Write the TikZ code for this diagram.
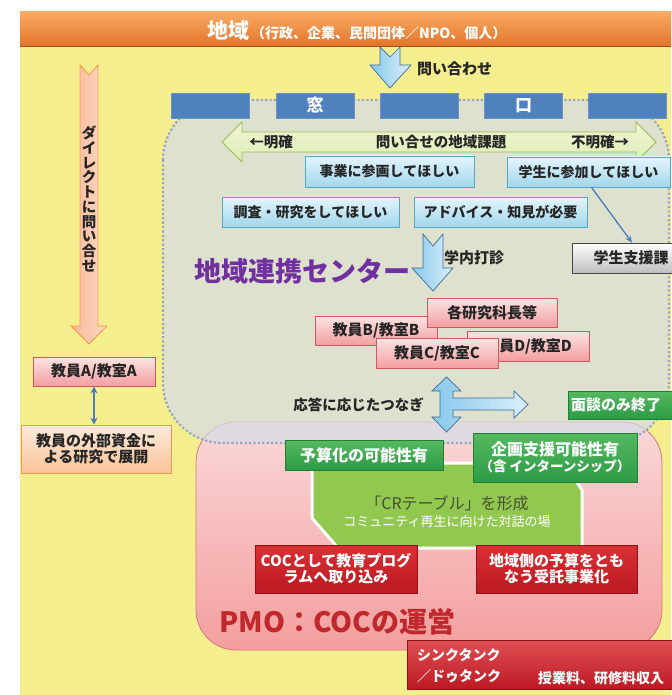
\documentclass[tikz,border=0pt]{standalone}
\usepackage{fontspec}
\setmainfont{Noto Sans CJK JP}
\usetikzlibrary{arrows.meta}
\newcommand\fsz[1]{\fontsize{#1}{#1}\selectfont}
\definecolor{bgyellow}{RGB}{245,238,143}
\definecolor{bannertop}{RGB}{249,170,100}
\definecolor{bannerbot}{RGB}{226,115,40}
\definecolor{winblue}{RGB}{79,129,189}
\definecolor{grayfill}{RGB}{212,220,232}
\definecolor{dotcol}{RGB}{155,165,190}
\definecolor{pinktop}{RGB}{250,216,216}
\definecolor{pinkbot}{RGB}{244,158,158}
\definecolor{pinkedge}{RGB}{214,120,130}
\definecolor{bluetop}{RGB}{228,245,252}
\definecolor{bluebot}{RGB}{160,215,236}
\definecolor{blueedge}{RGB}{75,172,198}
\definecolor{bpinktop}{RGB}{252,228,228}
\definecolor{bpinkbot}{RGB}{242,158,160}
\definecolor{bpinkedge}{RGB}{205,90,95}
\definecolor{graybot}{RGB}{190,190,190}
\definecolor{grayedge}{RGB}{70,70,70}
\definecolor{greentop}{RGB}{85,185,95}
\definecolor{greenbot}{RGB}{45,155,70}
\definecolor{greenedge}{RGB}{35,125,55}
\definecolor{redtop}{RGB}{218,48,52}
\definecolor{redbot}{RGB}{188,25,35}
\definecolor{rededge}{RGB}{140,20,25}
\definecolor{crgreen}{RGB}{146,200,80}
\definecolor{crtext}{RGB}{70,80,50}
\definecolor{orangetop}{RGB}{253,235,220}
\definecolor{orangebot}{RGB}{250,195,150}
\definecolor{orangeedge}{RGB}{247,150,70}
\definecolor{peachL}{RGB}{248,185,150}
\definecolor{peachR}{RGB}{252,218,198}
\definecolor{lgtop}{RGB}{240,245,212}
\definecolor{lgbot}{RGB}{222,236,180}
\definecolor{lgedge}{RGB}{155,187,89}
\definecolor{arrowblue}{RGB}{70,125,190}
\definecolor{afillL}{RGB}{135,200,235}
\definecolor{afillR}{RGB}{218,240,251}
\definecolor{aedge}{RGB}{65,105,155}
\definecolor{purp}{RGB}{112,48,160}
\definecolor{pmored}{RGB}{192,40,45}
\definecolor{txt}{RGB}{38,38,38}
\begin{document}
\begin{tikzpicture}[x=1pt,y=-1pt,
  box/.style={draw, inner sep=0pt, align=center, text=txt, font=\bfseries\fsz{14}},
  bluebox/.style={box, top color=bluetop, bottom color=bluebot, draw=blueedge, line width=0.8pt},
  pinkbox/.style={box, top color=bpinktop, bottom color=bpinkbot, draw=bpinkedge, line width=0.8pt, font=\bfseries\fsz{15}},
  graybox/.style={box, top color=white, bottom color=graybot, draw=grayedge, line width=0.8pt, font=\bfseries\fsz{15}},
  greenbox/.style={box, top color=greentop, bottom color=greenbot, draw=greenedge, line width=0.6pt, text=white, font=\bfseries\fsz{16}},
  redbox/.style={box, top color=redtop, bottom color=redbot, draw=rededge, line width=0.6pt, text=white, font=\bfseries\fsz{15}},
  winbox/.style={fill=winblue, draw=winblue!85!white, inner sep=0pt, minimum width=78pt, minimum height=25pt, text=white, font=\bfseries\fsz{17}},
  blockarrow/.style={left color=afillL, right color=afillR, draw=aedge, line width=0.7pt},
  lbl/.style={text=txt, font=\bfseries\fsz{14.5}, inner sep=0pt}
]
\useasboundingbox (0,0) rectangle (671,695);
% background
\fill[white] (0,0) rectangle (671,695);
\fill[bgyellow] (20,40) rectangle (671,695);
\shade[top color=bannertop, bottom color=bannerbot] (20,12) rectangle (671,47);
\draw[bannerbot!70!black, line width=0.8pt] (20,46.5) -- (671,46.5);
\node[text=white, inner sep=0pt] (bannertext) at (357,31) {{\bfseries\fsz{21}地域}\,{\bfseries\fsz{14}（行政、企業、民間団体／NPO、個人）}};

% PMO region (pink)
\draw[rounded corners=40pt, top color=pinktop, bottom color=pinkbot, draw=pinkedge, line width=0.8pt] (196,422) rectangle (662,650);
% center region (gray, dotted)
\draw[rounded corners=60pt, fill=grayfill, fill opacity=0.7, draw=dotcol, line width=2.2pt, dash pattern=on 2.2pt off 2.2pt] (163,100) rectangle (669,443);

% window row
\node[winbox] (win1) at (210,105.5) {};
\node[winbox] (win2) at (315,105.5) {窓};
\node[winbox] (win3) at (419,105.5) {};
\node[winbox] (win4) at (523.5,105.5) {口};
\node[winbox] (win5) at (627.5,105.5) {};

% inquiry arrow
\draw[blockarrow] (380,47) -- (390,57) -- (400,47) -- (400,65) -- (411,65) -- (390,88) -- (370,65) -- (380,65) -- cycle;
\node[lbl, font=\bfseries\fsz{15}, anchor=west] (toiawase) at (417,69) {問い合わせ};

% left orange arrow
\draw[left color=peachL, right color=peachR, draw=orangeedge, line width=0.8pt]
  (80,65) -- (89,75) -- (98,65) -- (98,326) -- (107,326) -- (89,344) -- (71,326) -- (80,326) -- cycle;
\node[text=txt, inner sep=0pt, align=center, font=\bfseries\fontsize{14.5}{14.75}\selectfont] (direct) at (89,199) {ダ\\イ\\レ\\ク\\ト\\に\\問\\い\\合\\せ};

\node[pinkbox, minimum width=122pt, minimum height=29pt] (kyoinA) at (94,371.5) {教員A/教室A};
\node[box, top color=orangetop, bottom color=orangebot, draw=orangeedge, line width=0.8pt, minimum width=150pt, minimum height=48pt, font=\bfseries\fsz{15}] (gaibu) at (96,449) {教員の外部資金に\\[1pt]よる研究で展開};
\draw[{Stealth[length=7pt,width=7pt]}-{Stealth[length=7pt,width=7pt]}, line width=1.9pt, arrowblue] (kyoinA.south) -- (kyoinA.south |- gaibu.north);

% green double arrow
\draw[top color=lgtop, bottom color=lgbot, draw=lgedge, line width=0.9pt]
  (222,142) -- (242,122) -- (242,132) -- (636,132) -- (636,122) -- (656,142) -- (636,162) -- (636,152) -- (242,152) -- (242,162) -- cycle;
\node[lbl] (meikaku) at (271,142) {←明確};
\node[lbl] (kadai) at (441,142) {問い合せの地域課題};
\node[lbl] (fumei) at (600,142) {不明確→};

% request boxes
\node[bluebox, minimum width=169pt, minimum height=31pt] (jigyo) at (389.5,171.5) {事業に参画してほしい};
\node[bluebox, minimum width=163pt, minimum height=30pt] (gakusei) at (588.5,172) {学生に参加してほしい};
\node[bluebox, minimum width=177pt, minimum height=30pt] (chosa) at (310.5,212) {調査・研究をしてほしい};
\node[bluebox, minimum width=173pt, minimum height=30pt] (advice) at (500.5,212) {アドバイス・知見が必要};
\node[graybox, minimum width=118pt, minimum height=30pt] (shien) at (631,258) {学生支援課};
\draw[-{Stealth[length=7pt,width=6pt]}, line width=1.3pt, arrowblue] ([xshift=3pt]gakusei.south) -- ([xshift=1pt]shien.north);

% internal arrow
\draw[blockarrow] (423,234) -- (433,246) -- (443,234) -- (443,268) -- (453,268) -- (433,291) -- (412,268) -- (423,268) -- cycle;
\node[lbl, font=\bfseries\fsz{15}, anchor=west] (dashin) at (444,258) {学内打診};
\node[text=purp, inner sep=0pt, font=\bfseries\fsz{27}] (center) at (302.5,271) {地域連携センター};

% faculty boxes
\node[pinkbox, minimum width=122pt, minimum height=29pt] (kyoinB) at (376,330.5) {教員B/教室B};
\node[pinkbox, minimum width=130pt, minimum height=29pt] (kenkyuka) at (492,312.5) {各研究科長等};
\node[pinkbox, minimum width=122pt, minimum height=30pt] (kyoinD) at (528,346) {教員D/教室D};
\node[pinkbox, minimum width=122pt, minimum height=30pt] (kyoinC) at (437,353) {教員C/教室C};

% cross arrow
\draw[blockarrow]
  (446.5,377) -- (461,391) -- (453,391) -- (453,398) -- (514,398) -- (514,391) -- (528,404.5) -- (514,418) -- (514,410) -- (453,410) -- (453,417) -- (461,417) -- (446.5,432) -- (432,417) -- (440,417) -- (440,391) -- (432,391) -- cycle;
\node[lbl] (tsunagi) at (358.5,405) {応答に応じたつなぎ};
\node[greenbox, minimum width=120pt, minimum height=28pt, font=\bfseries\fsz{15}, text width=114pt, align=left] (mendan) at (628,405) {面談のみ終了};

% CR table
\draw[fill=crgreen, draw=white, line width=3pt] (312,463) -- (565,463) -- (582,490) -- (582,548) -- (338,548) -- (312,518) -- cycle;
\node[inner sep=0pt, align=center] (crtable) at (447,512) {{\color{crtext}\fsz{16}「CRテーブル」を形成}\\[4pt]{\color{white}\fsz{13}コミュニティ再生に向けた対話の場}};

\node[greenbox, minimum width=158pt, minimum height=30pt] (yosan) at (364,455) {予算化の可能性有};
\node[greenbox, minimum width=164pt, minimum height=49pt] (kikaku) at (555,457.5) {企画支援可能性有\\{\fsz{13.5}（含 インターンシップ）}};
\node[redbox, minimum width=162pt, minimum height=48pt] (cocprog) at (336,569) {COCとして教育プログ\\[1pt]ラムへ取り込み};
\node[redbox, minimum width=161pt, minimum height=48pt] (jutaku) at (556.5,569) {地域側の予算をとも\\[1pt]なう受託事業化};

\node[text=pmored, inner sep=0pt, font=\bfseries\fsz{28}] (pmo) at (337.5,622) {PMO：COCの運営};

% think tank
\node[redbox, top color=redtop!85!white, minimum width=290pt, minimum height=49pt] (think) at (552,665) {};
\node[text=white, anchor=west, inner sep=0pt, align=left, font=\bfseries\fontsize{14}{21}\selectfont] (thinktext) at (417,665.5) {シンクタンク\\／ドゥタンク};
\node[text=white, anchor=west, inner sep=0pt, font=\bfseries\fsz{14}] (income) at (538,678) {授業料、研修料収入};
\end{tikzpicture}
\end{document}
